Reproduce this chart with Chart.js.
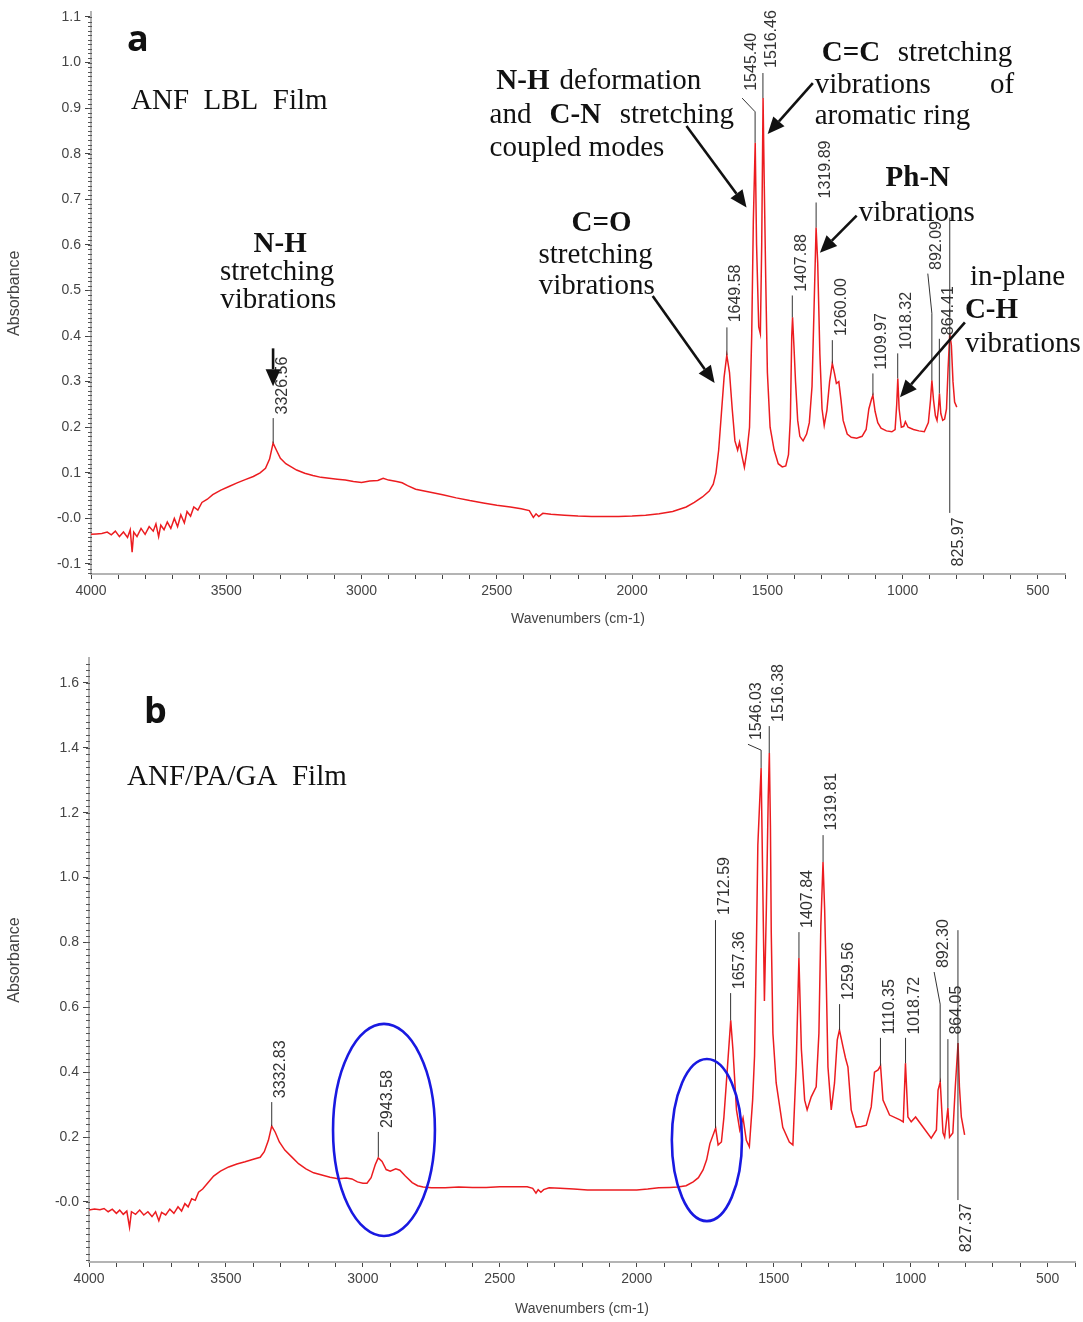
<!DOCTYPE html>
<html>
<head>
<meta charset="utf-8">
<script src="https://cdn.jsdelivr.net/npm/chart.js@4.4.1/dist/chart.umd.min.js"></script>
<style>
  body { margin: 0; background: #fff; }
  .panel { position: absolute; left: 0; width: 1083px; }
  #boxA { top: 0; height: 640px; }
  #boxB { top: 645px; height: 677px; }
</style>
</head>
<body>
<div class="panel" id="boxA"><canvas id="chartA"></canvas></div>
<div class="panel" id="boxB"><canvas id="chartB"></canvas></div>
<script>
// ---- spectrum a : ANF LBL film ----
const waveA = [
  4000,3980,3960,3940,3925,3910,3895,3880,3865,3855,
  3848,3842,3830,3815,3800,3785,3770,3760,3750,3742,
  3730,3718,3705,3692,3680,3668,3655,3645,3632,3620,
  3605,3590,3570,3550,3520,3490,3460,3430,3400,3375,
  3355,3340,3327,3315,3300,3280,3260,3240,3210,3180,
  3150,3120,3090,3060,3030,3000,2970,2940,2920,2900,
  2870,2850,2830,2800,2750,2700,2650,2600,2550,2500,
  2450,2410,2380,2365,2355,2345,2330,2300,2250,2200,
  2150,2100,2050,2000,1950,1900,1850,1800,1770,1740,
  1715,1700,1690,1680,1670,1660,1650,1640,1630,1620,
  1610,1603,1595,1585,1575,1566,1558,1552,1545,1540,
  1532,1526,1521,1516,1512,1506,1500,1490,1475,1460,
  1445,1432,1422,1415,1410,1407,1402,1396,1388,1380,
  1368,1355,1345,1335,1328,1320,1314,1306,1298,1290,
  1280,1270,1260,1252,1245,1236,1228,1220,1205,1190,
  1170,1150,1135,1125,1115,1110,1102,1092,1080,1060,
  1040,1028,1022,1018,1013,1005,996,990,980,960,
  940,920,905,897,892,886,879,873,868,864,
  859,852,845,838,832,826,820,814,808,800
];
const absA = [
  -0.035,-0.034,-0.033,-0.030,-0.036,-0.028,-0.040,-0.030,-0.042,-0.025,
  -0.074,-0.030,-0.040,-0.022,-0.035,-0.018,-0.028,-0.012,-0.040,-0.015,
  -0.025,-0.008,-0.022,0.000,-0.018,0.008,-0.010,0.015,0.005,0.025,
  0.018,0.035,0.042,0.052,0.062,0.070,0.078,0.085,0.092,0.100,
  0.110,0.130,0.165,0.150,0.132,0.120,0.113,0.106,0.099,0.094,
  0.090,0.088,0.086,0.084,0.081,0.079,0.082,0.083,0.088,0.084,
  0.081,0.078,0.072,0.064,0.058,0.052,0.045,0.039,0.034,0.029,
  0.025,0.021,0.017,0.002,0.010,0.004,0.011,0.009,0.007,0.005,
  0.004,0.004,0.004,0.005,0.007,0.010,0.015,0.025,0.035,0.047,
  0.060,0.075,0.100,0.150,0.230,0.310,0.358,0.320,0.240,0.170,
  0.150,0.167,0.140,0.112,0.150,0.200,0.400,0.650,0.824,0.600,
  0.420,0.405,0.600,0.922,0.750,0.520,0.320,0.200,0.150,0.120,
  0.113,0.115,0.140,0.220,0.400,0.441,0.380,0.300,0.215,0.180,
  0.170,0.185,0.210,0.290,0.450,0.638,0.560,0.360,0.240,0.204,
  0.237,0.300,0.340,0.318,0.296,0.300,0.260,0.215,0.185,0.178,
  0.176,0.180,0.195,0.240,0.262,0.270,0.235,0.210,0.198,0.192,
  0.190,0.195,0.250,0.307,0.240,0.200,0.202,0.212,0.200,0.195,
  0.192,0.190,0.210,0.260,0.303,0.260,0.225,0.215,0.240,0.274,
  0.230,0.215,0.218,0.240,0.330,0.405,0.380,0.300,0.255,0.244
];

// ---- spectrum b : ANF/PA/GA film ----
const waveB = [
  4000,3980,3960,3945,3930,3915,3900,3888,3875,3862,
  3852,3845,3830,3815,3800,3785,3770,3757,3745,3735,
  3720,3705,3690,3675,3662,3650,3638,3625,3612,3600,
  3585,3565,3545,3520,3490,3460,3430,3400,3375,3360,
  3345,3333,3320,3305,3285,3260,3235,3208,3180,3150,
  3120,3090,3060,3040,3020,3000,2985,2970,2955,2944,
  2930,2915,2900,2880,2865,2845,2820,2800,2780,2750,
  2700,2650,2600,2550,2500,2450,2400,2380,2368,2360,
  2350,2340,2320,2280,2230,2180,2120,2060,2000,1960,
  1920,1880,1850,1820,1794,1775,1758,1745,1733,1712,
  1703,1691,1682,1673,1657,1649,1636,1624,1612,1600,
  1589,1577,1570,1563,1558,1546,1540,1534,1527,1520,
  1516,1512,1509,1503,1491,1467,1443,1430,1418,1408,
  1399,1387,1378,1363,1345,1335,1328,1320,1314,1308,
  1302,1290,1278,1268,1260,1247,1238,1229,1217,1199,
  1180,1162,1144,1132,1119,1110,1101,1077,1039,1027,
  1019,1010,998,982,955,925,906,900,892,882,
  876,864,858,846,837,827,822,815,803
];
const absB = [
  -0.025,-0.022,-0.024,-0.020,-0.030,-0.022,-0.035,-0.025,-0.038,-0.028,
  -0.078,-0.030,-0.038,-0.025,-0.040,-0.030,-0.045,-0.030,-0.058,-0.032,
  -0.040,-0.022,-0.035,-0.015,-0.028,-0.005,-0.015,0.010,0.005,0.030,
  0.040,0.060,0.080,0.095,0.108,0.117,0.124,0.132,0.138,0.155,
  0.190,0.234,0.215,0.185,0.160,0.139,0.118,0.102,0.090,0.083,
  0.076,0.072,0.074,0.071,0.062,0.058,0.058,0.075,0.115,0.136,
  0.125,0.100,0.095,0.102,0.098,0.080,0.060,0.050,0.046,0.044,
  0.044,0.046,0.045,0.045,0.047,0.047,0.047,0.042,0.027,0.038,
  0.030,0.038,0.044,0.042,0.040,0.037,0.037,0.037,0.037,0.040,
  0.044,0.045,0.046,0.050,0.062,0.075,0.099,0.130,0.180,0.228,
  0.176,0.185,0.260,0.367,0.560,0.470,0.284,0.222,0.259,0.190,
  0.170,0.314,0.450,0.800,1.100,1.338,0.980,0.620,0.900,1.250,
  1.384,1.155,0.830,0.520,0.367,0.230,0.185,0.176,0.420,0.752,
  0.470,0.314,0.284,0.324,0.355,0.520,0.850,1.048,0.900,0.675,
  0.416,0.284,0.367,0.500,0.530,0.478,0.444,0.416,0.284,0.231,
  0.233,0.237,0.293,0.400,0.407,0.420,0.314,0.268,0.253,0.247,
  0.428,0.262,0.247,0.262,0.231,0.197,0.222,0.345,0.370,0.213,
  0.200,0.290,0.200,0.213,0.355,0.490,0.355,0.262,0.207
];

// peak tags: label text (its value is the wavenumber), line bottom/top, optional kink, text start
const tagsA = [
  {t:'3326.56', lo:0.165, hi:0.220, tx:0.228},
  {t:'1649.58', lo:0.358, hi:0.419, tx:0.430},
  {t:'1545.40', lo:0.824, hi:0.892, kw:48, kt:0.922, tx:0.938},
  {t:'1516.46', lo:0.922, hi:0.977, tx:0.988},
  {t:'1407.88', lo:0.441, hi:0.489, tx:0.497},
  {t:'1319.89', lo:0.638, hi:0.693, tx:0.702},
  {t:'1260.00', lo:0.340, hi:0.391, tx:0.400},
  {t:'1109.97', lo:0.270, hi:0.318, tx:0.326},
  {t:'1018.32', lo:0.307, hi:0.362, tx:0.370},
  {t:'892.09',  lo:0.303, hi:0.450, kw:15, kt:0.537, tx:0.545},
  {t:'864.41',  lo:0.274, hi:0.394, tx:0.402},
  {t:'825.97',  lo:0.012, hi:0.660, tx:0.002, below:true}
];
const tagsB = [
  {t:'3332.83', lo:0.234, hi:0.308, tx:0.320},
  {t:'2943.58', lo:0.139, hi:0.216, tx:0.228},
  {t:'1712.59', lo:0.228, hi:0.869, tx:0.885},
  {t:'1657.36', lo:0.560, hi:0.644, tx:0.656},
  {t:'1546.03', lo:1.338, hi:1.393, kw:48, kt:1.411, tx:1.424},
  {t:'1516.38', lo:1.384, hi:1.467, tx:1.480},
  {t:'1407.84', lo:0.752, hi:0.832, tx:0.845},
  {t:'1319.81', lo:1.048, hi:1.131, tx:1.145},
  {t:'1259.56', lo:0.530, hi:0.610, tx:0.623},
  {t:'1110.35', lo:0.420, hi:0.506, tx:0.516},
  {t:'1018.72', lo:0.428, hi:0.506, tx:0.516},
  {t:'892.30',  lo:0.370, hi:0.610, kw:22, kt:0.709, tx:0.721},
  {t:'864.05',  lo:0.290, hi:0.502, tx:0.516},
  {t:'827.37',  lo:0.006, hi:0.838, tx:-0.004, below:true}
];

// text notes: [text, wavenumber, absorbance, style, align]
const notesA = [
  ['a', 3867, 1.025, 'tag', 'left'],
  ['ANF  LBL  Film', 3852, 0.898, 'serif', 'left'],
  ['N-H', 3301, 0.585, 'bold', 'center'],
  ['stretching', 3312, 0.524, 'serif', 'center'],
  ['vibrations', 3308, 0.461, 'serif', 'center'],
  ['C=O', 2113, 0.631, 'bold', 'center'],
  ['stretching', 2135, 0.561, 'serif', 'center'],
  ['vibrations', 2131, 0.493, 'serif', 'center'],
  ['N-H', 2502, 0.942, 'bold', 'left'],
  ['deformation', 2268, 0.942, 'serif', 'left'],
  ['and', 2527, 0.868, 'serif', 'left'],
  ['C-N', 2305, 0.868, 'bold', 'left'],
  ['stretching', 2046, 0.868, 'serif', 'left'],
  ['coupled modes', 2527, 0.796, 'serif', 'left'],
  ['C=C', 1299, 1.004, 'bold', 'left'],
  ['stretching', 1018, 1.004, 'serif', 'left'],
  ['vibrations', 1325, 0.933, 'serif', 'left'],
  ['of', 677, 0.933, 'serif', 'left'],
  ['aromatic ring', 1325, 0.865, 'serif', 'left'],
  ['Ph-N', 944, 0.730, 'bold', 'center'],
  ['vibrations', 948, 0.653, 'serif', 'center'],
  ['in-plane', 751, 0.511, 'serif', 'left'],
  ['C-H', 770, 0.439, 'bold', 'left'],
  ['vibrations', 770, 0.365, 'serif', 'left']
];
const notesB = [
  ['b', 3799, 1.477, 'tag', 'left'],
  ['ANF/PA/GA  Film', 3861, 1.285, 'serif', 'left']
];

// arrows: [from wavenumber, from absorbance, to wavenumber, to absorbance]
const arrowsA = [
  [3327, 0.373, 3327, 0.290],
  [1924, 0.488, 1695, 0.297],
  [1799, 0.861, 1577, 0.682],
  [1332, 0.955, 1499, 0.843],
  [1170, 0.664, 1306, 0.583],
  [770, 0.430, 1010, 0.266]
];
// highlighted regions in b: [centre wavenumber, centre absorbance, half width, half height]
const ringsB = [
  [2923, 0.222, 186, 0.327],
  [1744, 0.191, 128, 0.250]
];

const fonts = {
  tag: 'bold 36px "Open Sans"',
  serif: '29px "Liberation Serif"',
  bold: 'bold 29px "Liberation Serif"'
};

function drawArrow(ctx, x1, y1, x2, y2) {
  const ang = Math.atan2(y2 - y1, x2 - x1);
  const head = 17, half = 7.5;
  const bx = x2 - head * Math.cos(ang), by = y2 - head * Math.sin(ang);
  ctx.beginPath();
  ctx.moveTo(x1, y1);
  ctx.lineTo(bx, by);
  ctx.lineWidth = 2.6;
  ctx.stroke();
  ctx.beginPath();
  ctx.moveTo(x2, y2);
  ctx.lineTo(bx + half * Math.sin(ang), by - half * Math.cos(ang));
  ctx.lineTo(bx - half * Math.sin(ang), by + half * Math.cos(ang));
  ctx.closePath();
  ctx.fill();
}

const overlay = {
  id: 'overlay',
  afterDraw(chart, args, opts) {
    const ctx = chart.ctx;
    const x = chart.scales.x, y = chart.scales.y;
    const px = w => x.getPixelForValue(w);
    const py = a => y.getPixelForValue(a);
    ctx.save();

    // minor ticks on the y axis
    ctx.strokeStyle = '#555';
    ctx.lineWidth = 1;
    ctx.beginPath();
    for (let v = Math.ceil(y.min / opts.yMinor) * opts.yMinor; v <= y.max; v += opts.yMinor) {
      const yy = Math.round(py(v)) + 0.5;
      ctx.moveTo(x.left - 3, yy);
      ctx.lineTo(x.left + 1, yy);
    }
    ctx.stroke();

    // peak tags
    ctx.font = '16px "Liberation Sans"';
    ctx.fillStyle = '#333';
    opts.tags.forEach(t => {
      const w = parseFloat(t.t);
      const x0 = px(w);
      let xt = x0;
      ctx.strokeStyle = '#333';
      ctx.lineWidth = 1;
      ctx.beginPath();
      ctx.moveTo(x0, py(t.lo));
      ctx.lineTo(x0, py(t.hi));
      if (t.kw) {
        xt = px(w + t.kw);
        ctx.lineTo(xt, py(t.kt));
      }
      ctx.stroke();
      ctx.save();
      ctx.translate(xt + 9, py(t.tx));
      ctx.rotate(-Math.PI / 2);
      ctx.textAlign = t.below ? 'right' : 'left';
      ctx.textBaseline = 'middle';
      ctx.fillText(t.t, 0, 0);
      ctx.restore();
    });

    // notes
    ctx.fillStyle = '#111';
    ctx.textBaseline = 'alphabetic';
    opts.notes.forEach(n => {
      ctx.font = fonts[n[3]];
      ctx.textAlign = n[4];
      ctx.fillText(n[0], px(n[1]), py(n[2]));
    });

    // arrows
    ctx.strokeStyle = '#111';
    ctx.fillStyle = '#111';
    opts.arrows.forEach(a => drawArrow(ctx, px(a[0]), py(a[1]), px(a[2]), py(a[3])));

    // ellipses
    ctx.strokeStyle = 'rgb(25,25,225)';
    ctx.lineWidth = 2.6;
    opts.rings.forEach(r => {
      const cx = px(r[0]), cy = py(r[1]);
      ctx.beginPath();
      ctx.ellipse(cx, cy, Math.abs(px(r[0] + r[2]) - cx), Math.abs(py(r[1] + r[3]) - cy), 0, 0, Math.PI * 2);
      ctx.stroke();
    });
    ctx.restore();
  }
};

function yLabel(v) {
  const r = Math.round(v * 10) / 10;
  return r === 0 ? '-0.0' : r.toFixed(1);
}

function makeChart(id, waves, abs, cfg) {
  const pts = waves.map((w, i) => ({x: w, y: abs[i]}));
  return new Chart(document.getElementById(id), {
    type: 'line',
    data: {
      datasets: [{
        data: pts,
        borderColor: 'rgb(236,28,32)',
        borderWidth: 1.5,
        pointRadius: 0,
        tension: 0,
        fill: false
      }]
    },
    options: {
      responsive: true,
      maintainAspectRatio: false,
      animation: false,
      layout: {padding: {top: cfg.top, right: cfg.right, left: 0, bottom: 0}},
      plugins: {
        legend: {display: false},
        tooltip: {enabled: false},
        overlay: {yMinor: cfg.yMinor, tags: cfg.tags, notes: cfg.notes, arrows: cfg.arrows, rings: cfg.rings}
      },
      scales: {
        x: {
          type: 'linear',
          reverse: true,
          min: 400,
          max: 4000,
          afterFit: s => { s.height = cfg.xHeight; },
          ticks: {
            stepSize: 100,
            autoSkip: false,
            includeBounds: false,
            maxRotation: 0,
            padding: 4,
            color: '#444',
            font: {family: 'Liberation Sans', size: 14},
            callback: v => (v % 500 === 0 ? String(v) : '')
          },
          grid: {drawOnChartArea: false, tickLength: 5, color: '#444'},
          border: {color: '#b4b4b4', width: 2},
          title: {display: true, text: 'Wavenumbers (cm-1)', color: '#444',
                  font: {family: 'Liberation Sans', size: 14}, padding: {top: 2, bottom: cfg.titlePad}}
        },
        y: {
          min: cfg.ymin,
          max: cfg.ymax,
          afterFit: s => { s.width = cfg.yWidth; },
          ticks: {
            stepSize: cfg.yStep,
            autoSkip: false,
            includeBounds: false,
            padding: 4,
            color: '#444',
            font: {family: 'Liberation Sans', size: 14},
            callback: yLabel
          },
          grid: {drawOnChartArea: false, tickLength: 6, color: '#444'},
          border: {color: '#b4b4b4', width: 2},
          title: {display: true, text: 'Absorbance', color: '#444',
                  font: {family: 'Liberation Sans', size: 16}, padding: {top: 5, bottom: 0}}
        }
      }
    },
    plugins: [overlay]
  });
}

makeChart('chartA', waveA, absA, {
  top: 11, right: 18, xHeight: 66, yWidth: 91, titlePad: 12,
  ymin: -0.122, ymax: 1.11, yStep: 0.1, yMinor: 0.01,
  tags: tagsA, notes: notesA, arrows: arrowsA, rings: []
});
makeChart('chartB', waveB, absB, {
  top: 13, right: 8, xHeight: 60, yWidth: 89, titlePad: 4,
  ymin: -0.185, ymax: 1.677, yStep: 0.2, yMinor: 0.02,
  tags: tagsB, notes: notesB, arrows: [], rings: ringsB
});
</script>
</body>
</html>
